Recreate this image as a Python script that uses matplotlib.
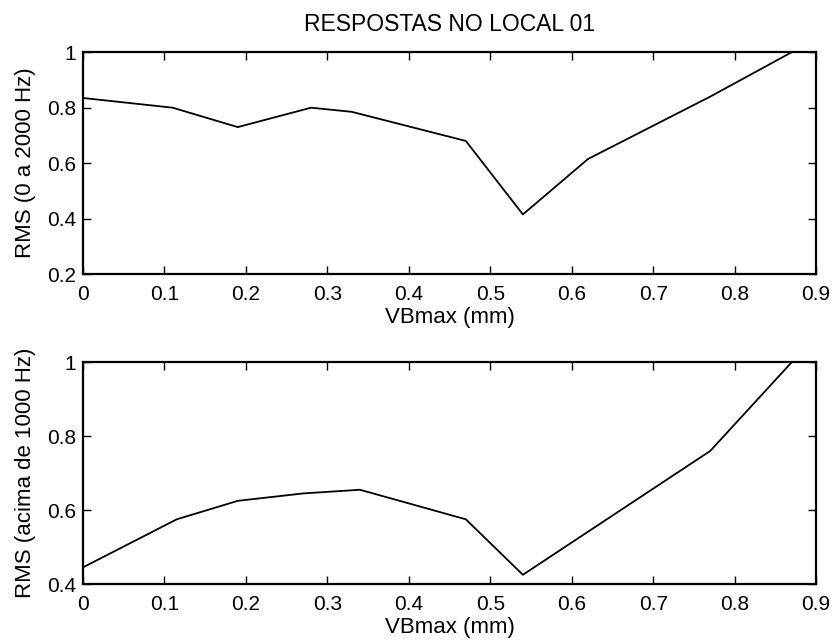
import matplotlib
matplotlib.use("Agg")
import matplotlib.pyplot as plt
from matplotlib.ticker import FuncFormatter

plt.rcParams['font.family'] = ['Liberation Sans', 'DejaVu Sans']

x_top = [0.0, 0.11, 0.19, 0.28, 0.33, 0.47, 0.54, 0.62, 0.77, 0.87]
y_top = [0.835, 0.80, 0.73, 0.80, 0.785, 0.68, 0.415, 0.615, 0.84, 1.0]

x_bot = [0.0, 0.115, 0.19, 0.27, 0.34, 0.47, 0.54, 0.77, 0.87]
y_bot = [0.445, 0.575, 0.625, 0.645, 0.655, 0.575, 0.425, 0.76, 1.0]

xticks = [0, 0.1, 0.2, 0.3, 0.4, 0.5, 0.6, 0.7, 0.8, 0.9]
yticks_top = [0.2, 0.4, 0.6, 0.8, 1.0]
yticks_bot = [0.4, 0.6, 0.8, 1.0]

fmt = FuncFormatter(lambda v, p: ('%g' % round(v, 2)))

fig = plt.figure(figsize=(8.35, 6.41), dpi=100)
ax1 = fig.add_axes([0.0994, 0.5725, 0.878, 0.346])
ax2 = fig.add_axes([0.0994, 0.0889, 0.878, 0.346])

for ax, xs, ys, yt, yl in [(ax1, x_top, y_top, yticks_top, 'RMS (0 a 2000 Hz)'),
                           (ax2, x_bot, y_bot, yticks_bot, 'RMS (acima de 1000 Hz)')]:
    ax.plot(xs, ys, color='black', linewidth=1.3)
    ax.set_xlim(0, 0.9)
    ax.set_ylim(yt[0], yt[-1])
    ax.set_xticks(xticks)
    ax.set_yticks(yt)
    ax.xaxis.set_major_formatter(fmt)
    ax.yaxis.set_major_formatter(fmt)
    ax.tick_params(direction='in', top=True, right=True, labelsize=15,
                   length=6, width=1)
    ax.tick_params(axis='x', pad=8)
    ax.tick_params(axis='y', pad=5)
    ax.set_xlabel('VBmax (mm)', fontsize=16, labelpad=2)
    ax.set_ylabel(yl, fontsize=16, labelpad=8)
    for s in ax.spines.values():
        s.set_linewidth(1.6)

ax1.set_title('RESPOSTAS NO LOCAL 01', fontsize=16.5, pad=15)

fig.savefig('out.png', dpi=100, facecolor='white')
